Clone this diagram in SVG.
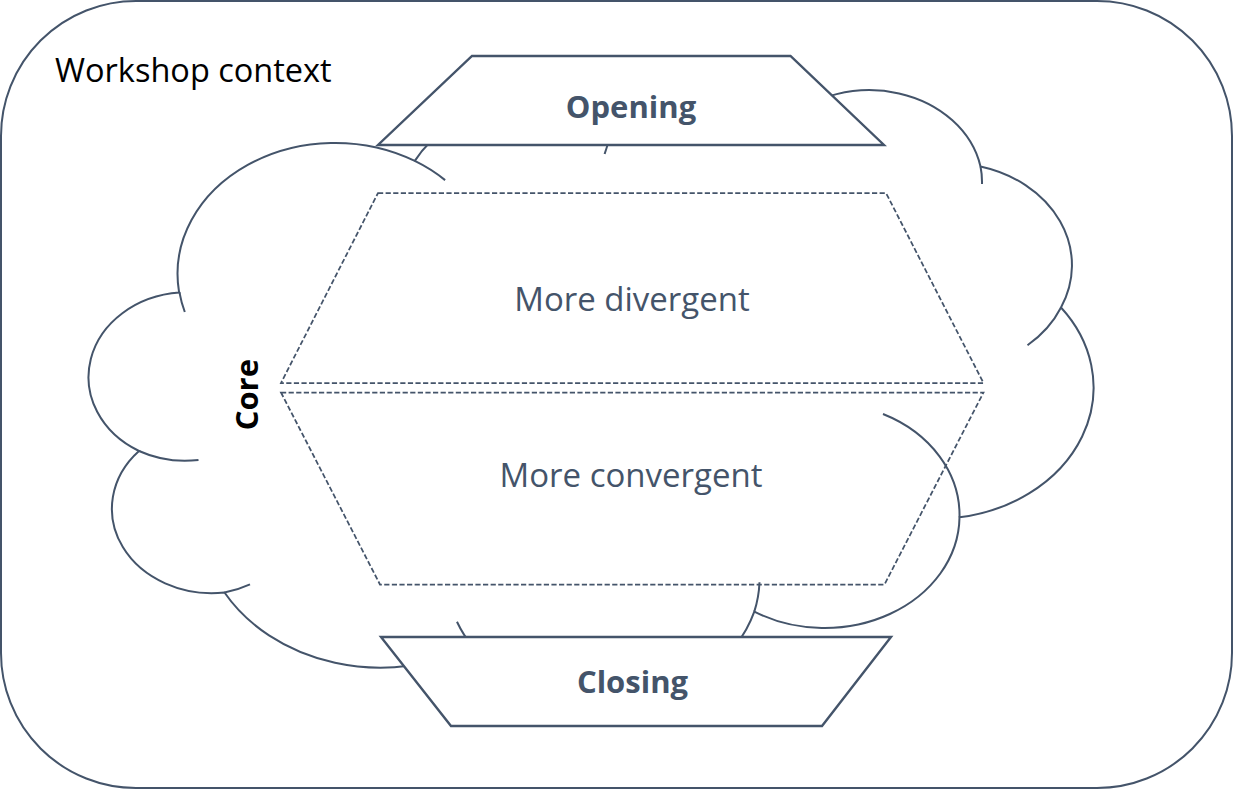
<svg xmlns="http://www.w3.org/2000/svg" width="1233" height="789" viewBox="0 0 1233 789">
  <defs>
    <style>
      .frame { fill: #FFFFFF; stroke: #44546A; stroke-width: 2; }
      .cloud { fill: none; stroke: #44546A; stroke-width: 2; }
      .solid { fill: #FFFFFF; stroke: #44546A; stroke-width: 2.4; stroke-linejoin: miter; }
      .dash { fill: none; stroke: #44546A; stroke-width: 1.75; stroke-dasharray: 5.2 2.4; }
      .lbl { font-family: "Open Sans", "Liberation Sans", sans-serif; }
      .dark { fill: #000000; }
      .slate { fill: #44546A; }
      .bold { font-weight: bold; font-size: 31px; }
      .reg { font-size: 33px; }
    </style>
  </defs>
  <rect width="1233" height="789" fill="#FFFFFF"/>

  <g id="workshop-context">
    <rect class="frame" x="1" y="1" width="1231" height="787" rx="135" ry="135"/>
    <text class="lbl dark" x="55" y="82" font-size="32.5">Workshop context</text>
  </g>

  <g id="core">
    <path class="cloud" d="M179.0,291.6
      A157.57,131.04 0 0 1 414.79,160.88
      A124.44,103.62 0 0 1 611.97,135.63
      A101.85,84.77 0 0 1 784.10,122.06
      A113.33,94.04 0 0 1 980.5,166.5
      A122,102 0 0 1 1061,307.5
      A158.08,131.47 0 0 1 959.5,517.36
      A134.98,112.18 0 0 1 754.31,611.61
      A157.55,131.40 0 0 1 472.53,646.56
      A180.13,150.34 0 0 1 224.5,592.46
      A100,84.39 0 0 1 139,450.98
      A99,84.77 0 0 1 179.5,292.6 Z"/>
    <path class="cloud" d="M198.5,460.0 A99,84.77 0 0 1 139,451.0
      M250,584.33 A100,84.39 0 0 1 224.5,592.46
      M472.53,646.56 A157.55,131.40 0 0 1 456.97,621.75
      M759.5,582.22 A157.55,131.40 0 0 1 754.31,611.61
      M883,414.01 A134.98,112.18 0 0 1 959.5,517.36
      M1061,307.5 A122,102 0 0 1 1027.5,345.27
      M980.5,166.5 A113.33,94.04 0 0 1 982,184
      M766.49,143.05 A113.33,94.04 0 0 1 784.10,122.06
      M604.62,154.0 A101.85,84.77 0 0 1 611.97,135.63
      M414.79,160.88 A157.57,131.04 0 0 1 445.12,180.11
      M184.8,312 A157.57,131.04 0 0 1 179.5,292.6"/>
    <text class="lbl dark bold" transform="translate(257.5,394.7) rotate(-90)" text-anchor="middle">Core</text>
  </g>

  <g id="more-divergent">
    <polygon class="dash" points="378,193 886,193 983.5,383 281,383"/>
    <text class="lbl slate reg" x="632" y="311" text-anchor="middle">More divergent</text>
  </g>

  <g id="more-convergent">
    <polygon class="dash" points="281,392.5 983.5,392.5 884.5,584.5 380,584.5"/>
    <text class="lbl slate reg" x="631" y="487" text-anchor="middle">More convergent</text>
  </g>

  <g id="opening">
    <polygon class="solid" points="472,56 790.5,56 884,145 378,145"/>
    <text class="lbl slate bold" x="631" y="118" text-anchor="middle">Opening</text>
  </g>

  <g id="closing">
    <polygon class="solid" points="381,637 891,637 822,726 451,726"/>
    <text class="lbl slate bold" x="632.5" y="693" text-anchor="middle">Closing</text>
  </g>

  <g id="connectors"></g>
</svg>
